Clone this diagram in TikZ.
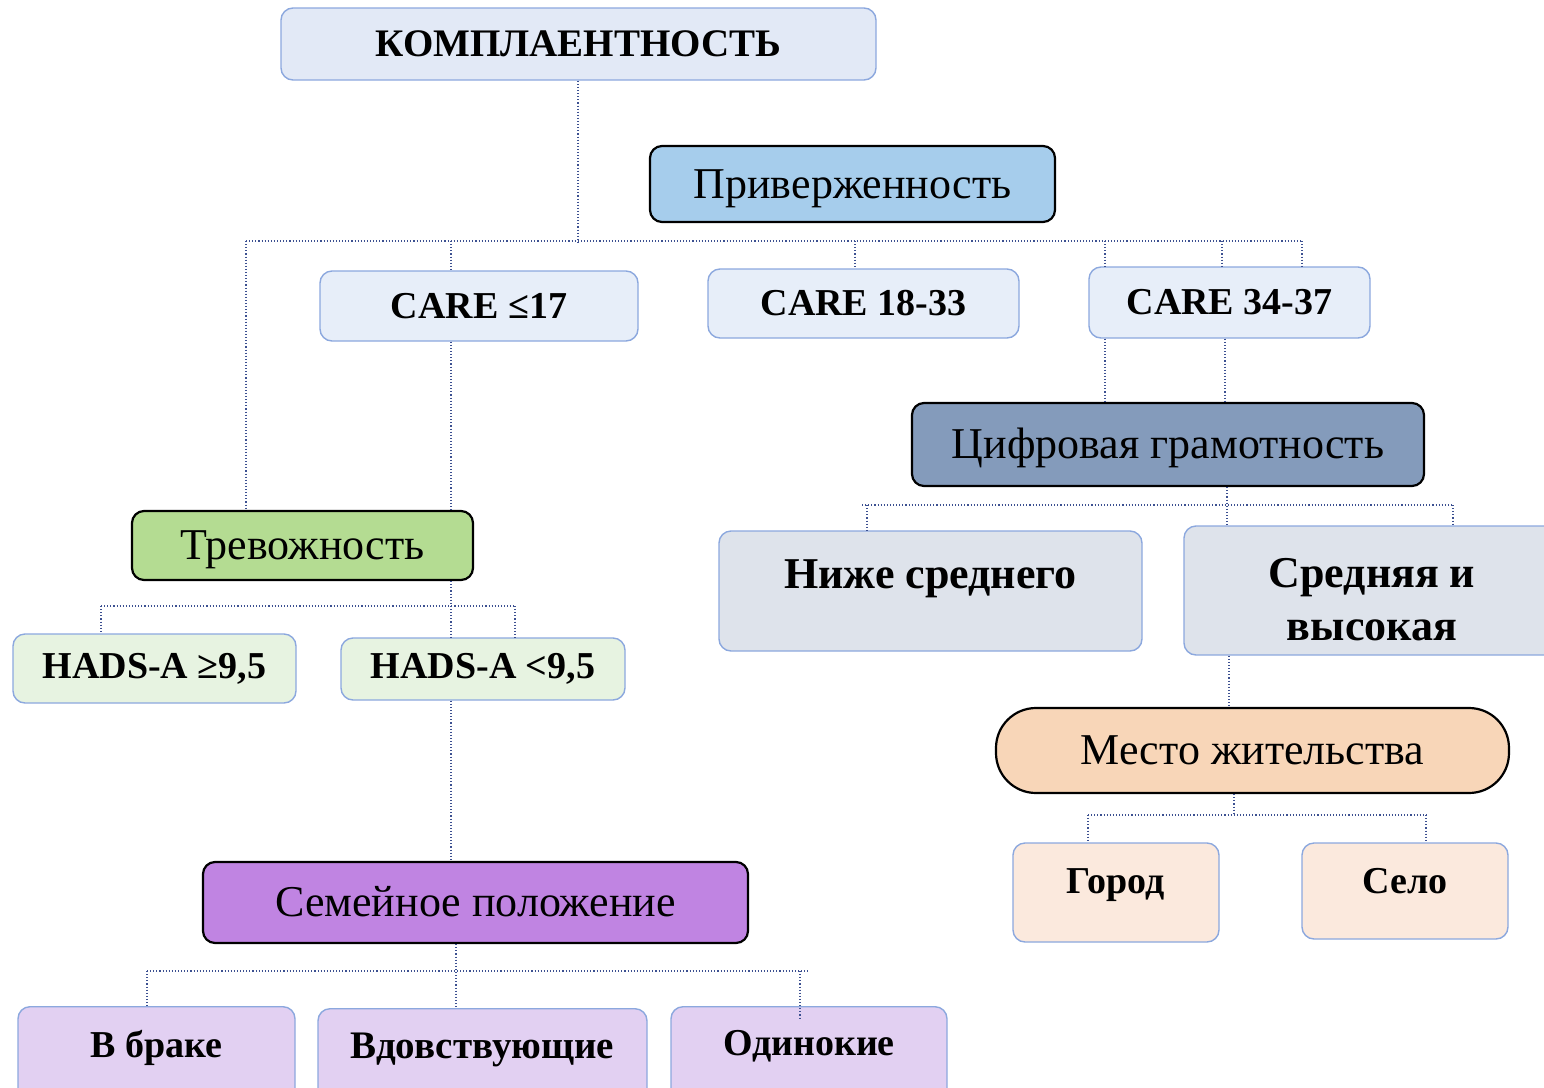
\documentclass[tikz,border=0pt]{standalone}
\usepackage{fontspec}
\setmainfont{Liberation Serif}
\usepackage{tikz}
\usetikzlibrary{positioning, calc}
\usepackage{xcolor}
\definecolor{paleblue}{RGB}{226,233,246}
\definecolor{careblue}{RGB}{231,238,249}
\definecolor{edgeblue}{RGB}{140,168,222}
\definecolor{skyblue}{RGB}{166,205,236}
\definecolor{steel}{RGB}{132,155,187}
\definecolor{leafgreen}{RGB}{180,220,146}
\definecolor{palegreen}{RGB}{231,243,225}
\definecolor{palegray}{RGB}{222,227,235}
\definecolor{peach}{RGB}{248,214,184}
\definecolor{palepeach}{RGB}{251,233,221}
\definecolor{violet}{RGB}{192,132,226}
\definecolor{paleviolet}{RGB}{226,208,242}
\definecolor{linkcol}{RGB}{60,80,145}

\tikzset{
  softbox/.style={draw=edgeblue, line width=0.7pt, rounded corners=6pt, inner sep=0pt,
    font=\bfseries\fontsize{19}{22}\selectfont},
  darkbox/.style={draw=black, line width=1.1pt, rounded corners=6pt, inner sep=0pt,
    text height=20pt, text depth=6pt, font=\fontsize{22}{26}\selectfont},
  link/.style={draw=linkcol, densely dotted, line width=0.55pt},
}

\begin{document}
\begin{tikzpicture}[x=0.5pt, y=-0.5pt]
  \useasboundingbox (0,0) rectangle (1544,1088);

  % boxes
  \node[softbox, fill=paleblue, minimum width=297.5pt, minimum height=36pt,
        font=\bfseries\fontsize{19.5}{22}\selectfont] (komp) at (578.5,44) {КОМПЛАЕНТНОСТЬ};
  \node[darkbox, fill=skyblue, minimum width=202.5pt, minimum height=38pt] (priv) at (852.5,184) {Приверженность};
  \node[softbox, fill=careblue, minimum width=159pt, minimum height=35pt] (care1) at (479,306) {CARE ≤17};
  \node[softbox, fill=careblue, minimum width=155.5pt, minimum height=34.5pt] (care2) at (863.5,303.5) {CARE 18-33};
  \node[softbox, fill=careblue, minimum width=140.5pt, minimum height=35.5pt] (care3) at (1229.5,302.5) {CARE 34-37};
  \node[darkbox, fill=steel, minimum width=256pt, minimum height=41.5pt] (digit) at (1168,444.5) {Цифровая грамотность};
  \node[darkbox, fill=leafgreen, minimum width=170.5pt, minimum height=34.5pt] (trev) at (302.5,545.5) {Тревожность};
  \node[softbox, fill=palegray, minimum width=211.5pt, text height=28.5pt, text depth=31.5pt,
        font=\bfseries\fontsize{22}{26}\selectfont] (low) at (930.5,591) {Ниже среднего};
  \node[softbox, fill=palegray, minimum width=188pt, minimum height=64.5pt, align=center,
        font=\bfseries\fontsize{22}{26.5}\selectfont] (mid) at (1372,590.5) {\rule{0pt}{24pt}Средняя и\\высокая};
  \node[softbox, fill=palegreen, minimum width=141.5pt, minimum height=34.5pt] (hadsA) at (154.5,668.5) {HADS-A ≥9,5};
  \node[softbox, fill=palegreen, minimum width=142pt, minimum height=31pt] (hadsB) at (483,669) {HADS-A <9,5};
  \node[darkbox, fill=peach, rounded corners=20pt, minimum width=256.5pt, minimum height=42.5pt] (place) at (1252.5,750.5) {Место жительства};
  \node[softbox, fill=palepeach, minimum width=103pt, text height=25pt, text depth=24.5pt] (city) at (1116,892.5) {Город};
  \node[softbox, fill=palepeach, minimum width=103pt, text height=25pt, text depth=23pt] (village) at (1405,891) {Село};
  \node[darkbox, fill=violet, minimum width=272.5pt, minimum height=40.5pt] (fam) at (475.5,902.5) {Семейное положение};
  \node[softbox, fill=paleviolet, anchor=north, minimum width=138.5pt, text height=25.5pt, text depth=21.5pt] (married) at (156.5,1006) {В браке};
  \node[softbox, fill=paleviolet, anchor=north, minimum width=164.5pt, text height=25pt, text depth=21pt,
        font=\bfseries\fontsize{19.5}{22}\selectfont] (widow) at (482.5,1008) {Вдовствующие};
  \node[softbox, fill=paleviolet, anchor=north, minimum width=138pt, text height=24.5pt, text depth=22.5pt] (single) at (809,1006) {Одинокие};

  % connectors
  \coordinate (busL) at (246,241);
  \coordinate (busR) at (1302,241);
  \coordinate (tA) at (451,241);
  \coordinate (tB) at (855,241);
  \coordinate (tC) at (1105,241);
  \coordinate (tD) at (1222,241);
  \draw[link] (komp.south -| 578,0) -- (578,243);
  \draw[link] (busL) -- (busR);
  \draw[link] (busL) -- (busL |- trev.north);
  \draw[link] (tA) -- (tA |- care1.north);
  \draw[link] (tB) -- (tB |- care2.north);
  \draw[link] (tC) -- (tC |- care3.north);
  \draw[link] (tD) -- (tD |- care3.north);
  \draw[link] (busR) -- (busR |- care3.north);
  \draw[link] (tA |- care1.south) -- (tA |- trev.north);
  \draw[link] (tA |- trev.south) -- (tA |- hadsB.north);
  \draw[link] (tA |- hadsB.south) -- (tA |- fam.north);
  \draw[link] (tC |- care3.south) -- (tC |- digit.north);
  \draw[link] (1225,0 |- care3.south) -- (1225,0 |- digit.north);

  \coordinate (anxL) at (101,606);
  \coordinate (anxR) at (515,606);
  \draw[link] (anxL) -- (anxR);
  \draw[link] (anxL) -- (anxL |- hadsA.north);
  \draw[link] (anxR) -- (anxR |- hadsB.north);

  \coordinate (digL) at (862,505);
  \coordinate (digR) at (1453,505);
  \draw[link] (digL) -- (digR);
  \draw[link] (867,505) -- (867,0 |- low.north);
  \draw[link] (digR) -- (digR |- mid.north);
  \draw[link] (1227,0 |- digit.south) -- (1227,0 |- mid.north);
  \draw[link] (1229,0 |- mid.south) -- (1229,0 |- place.north);

  \coordinate (plL) at (1088,815);
  \coordinate (plR) at (1426,815);
  \draw[link] (1234,0 |- place.south) -- (1234,815);
  \draw[link] (plL) -- (plR);
  \draw[link] (plL) -- (plL |- city.north);
  \draw[link] (plR) -- (plR |- village.north);

  \coordinate (fmL) at (147,971);
  \coordinate (fmR) at (808,971);
  \draw[link] (456,0 |- fam.south) -- (456,0 |- widow.north);
  \draw[link] (fmL) -- (fmR);
  \draw[link] (fmL) -- (fmL |- married.north);
  \draw[link] (800,971) -- (800,1020);
\end{tikzpicture}
\end{document}
